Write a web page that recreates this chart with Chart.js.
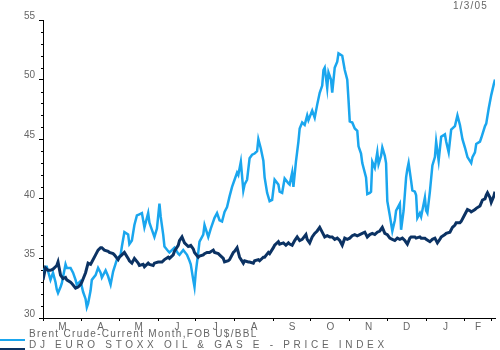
<!DOCTYPE html>
<html>
<head>
<meta charset="utf-8">
<script src="https://cdn.jsdelivr.net/npm/chart.js@4.4.1/dist/chart.umd.min.js"></script>
<style>
  body { margin: 0; background: #fff; }
  #wrap { position: relative; width: 500px; height: 350px; overflow: hidden; font-family: "Liberation Sans", Arial, sans-serif; color: #666; }
  #myChart { position: absolute; left: 0; top: 0; }
  .txt { position: absolute; font-size: 10px; line-height: 10px; white-space: nowrap; }
  .swatch { position: absolute; left: 0; width: 25px; }
</style>
</head>
<body>
<div id="wrap">
  <canvas id="myChart" width="500" height="350"></canvas>
  <div class="txt" id="date" style="left:453px; top:1px; letter-spacing:1.2px;">1/3/05</div>
  <div class="swatch" style="top:339px; height:2px; background:#1aa6ee;"></div>
  <div class="txt" style="left:29px; top:329px; letter-spacing:1.3px;">Brent Crude-Current Month,FOB U$/BBL</div>
  <div class="swatch" style="top:348px; height:3px; background:#0b3263;"></div>
  <div class="txt" style="left:29px; top:340px; letter-spacing:3.7px;">DJ EURO STOXX OIL &amp; GAS E - PRICE INDEX</div>
</div>
<script>
'use strict';

// ******* DATA *******
// x values are days since 1 March 2004
let monthLabels = ['M', 'A', 'M', 'J', 'J', 'A', 'S', 'O', 'N', 'D', 'J', 'F'];
let monthStarts = [0, 31, 61, 92, 122, 153, 184, 214, 245, 275, 306, 337];
let axisEndTick = 358;
let yTicks = [30, 35, 40, 45, 50, 55];

let brentDays = [0, 2, 3, 6, 8, 10, 11, 12, 14, 15, 18, 19, 22, 24, 26, 27, 30, 32, 34, 35, 36, 38, 39, 42, 44, 46, 47, 50, 52, 54, 56, 59, 62, 63, 65, 68, 69, 71, 73, 75, 77, 79, 81, 84, 85, 87, 89, 91, 93, 94, 96, 97, 100, 101, 104, 105, 108, 109, 112, 115, 117, 118, 120, 121, 122, 124, 125, 128, 129, 132, 134, 137, 139, 141, 143, 145, 147, 149, 151, 153, 155, 156, 158, 160, 161, 163, 165, 167, 169, 171, 172, 174, 176, 177, 179, 181, 183, 185, 188, 189, 191, 193, 196, 197, 199, 200, 202, 204, 205, 207, 209, 211, 212, 215, 217, 219, 221, 223, 224, 225, 227, 228, 230, 231, 233, 235, 236, 239, 241, 243, 244, 245, 247, 249, 251, 252, 254, 255, 258, 259, 261, 262, 263, 265, 267, 268, 270, 271, 273, 274, 275, 277, 279, 281, 282, 285, 286, 288, 290, 291, 292, 294, 295, 297, 298, 299, 301, 302, 305, 306, 307, 309, 311, 313, 314, 316, 318, 321, 322, 324, 326, 329, 331, 333, 335, 337, 339, 342, 343, 345, 346, 349, 350, 353, 354, 356, 358, 360, 361];
let brentValues = [33.8, 34.3, 34.3, 33.2, 33.8, 33.0, 32.4, 32.1, 32.6, 32.9, 34.5, 34.2, 34.2, 33.8, 33.2, 32.8, 33.1, 32.2, 31.6, 30.9, 31.2, 32.3, 33.2, 33.6, 34.2, 33.8, 33.4, 34.0, 33.5, 32.8, 33.9, 34.9, 35.3, 36.0, 37.2, 37.0, 36.2, 36.5, 37.8, 38.6, 38.7, 38.8, 37.6, 38.8, 38.0, 37.4, 36.8, 37.5, 39.6, 38.5, 37.0, 36.0, 35.6, 35.5, 35.8, 35.9, 35.4, 35.3, 35.7, 35.3, 34.8, 34.5, 33.2, 32.6, 33.8, 35.5, 36.4, 37.0, 37.8, 36.8, 37.5, 38.4, 38.8, 38.2, 38.1, 38.9, 39.3, 40.2, 41.0, 41.6, 42.2, 42.0, 43.1, 40.7, 41.2, 41.6, 43.4, 43.7, 43.8, 44.0, 45.0, 44.2, 43.2, 41.8, 40.5, 39.8, 39.9, 41.6, 41.2, 40.6, 40.5, 41.7, 41.3, 41.2, 42.2, 41.0, 43.1, 44.8, 45.9, 46.4, 46.2, 47.0, 46.6, 47.4, 46.8, 47.9, 48.9, 49.5, 50.8, 51.0, 49.3, 50.6, 50.0, 48.9, 51.0, 51.5, 52.2, 52.0, 50.8, 50.0, 48.3, 46.5, 46.4, 45.9, 45.7, 44.4, 43.8, 43.0, 41.8, 40.4, 40.5, 40.6, 43.1, 42.6, 43.9, 42.9, 43.6, 44.3, 43.6, 43.0, 39.8, 38.6, 37.3, 38.2, 39.0, 39.6, 37.4, 39.0, 41.8, 42.5, 43.0, 41.5, 40.7, 40.6, 40.3, 38.4, 38.8, 38.5, 40.1, 39.0, 38.8, 40.6, 42.8, 43.5, 44.8, 43.2, 45.2, 45.4, 44.8, 43.9, 45.8, 46.1, 47.0, 46.2, 45.0, 44.3, 43.5, 43.0, 43.5, 43.9, 44.6, 44.8, 45.1, 46.1, 46.3, 47.6, 48.7, 49.6, 50.0];

let stoxxDays = [0, 2, 4, 6, 8, 10, 11, 12, 14, 16, 18, 19, 22, 23, 26, 28, 30, 31, 34, 36, 38, 39, 42, 44, 46, 47, 49, 52, 53, 56, 57, 60, 61, 63, 65, 68, 69, 71, 73, 76, 77, 80, 81, 84, 85, 88, 89, 92, 95, 97, 100, 101, 104, 105, 108, 109, 111, 113, 116, 118, 120, 121, 124, 125, 128, 129, 131, 133, 136, 137, 140, 141, 144, 145, 148, 149, 152, 153, 155, 157, 160, 161, 164, 165, 168, 169, 172, 173, 176, 177, 180, 181, 184, 185, 188, 189, 192, 194, 196, 197, 199, 201, 203, 205, 207, 210, 211, 213, 215, 217, 219, 221, 223, 225, 227, 229, 231, 233, 235, 237, 239, 241, 243, 245, 247, 249, 251, 253, 255, 257, 259, 261, 263, 265, 267, 269, 271, 273, 275, 277, 279, 281, 283, 285, 287, 289, 291, 293, 294, 297, 298, 301, 302, 305, 306, 309, 311, 313, 315, 317, 318, 321, 322, 325, 327, 329, 330, 333, 334, 337, 339, 341, 342, 345, 346, 349, 351, 353, 354, 355, 357, 358, 360, 361];
let stoxxValues = [33.2, 34.2, 34.0, 34.0, 34.1, 34.3, 34.4, 34.7, 33.6, 33.3, 33.4, 33.2, 33.0, 32.9, 32.5, 32.6, 32.8, 33.0, 33.8, 34.6, 34.5, 34.7, 35.3, 35.7, 35.9, 35.9, 35.7, 35.6, 35.5, 35.4, 35.3, 34.9, 35.1, 35.3, 35.5, 35.0, 34.8, 34.6, 35.0, 34.6, 34.4, 34.5, 34.3, 34.6, 34.5, 34.4, 34.6, 34.7, 34.7, 34.9, 35.1, 35.0, 35.3, 35.6, 36.1, 36.5, 36.8, 36.3, 36.0, 36.1, 35.8, 35.5, 35.1, 35.2, 35.3, 35.4, 35.5, 35.5, 35.7, 35.5, 35.4, 35.3, 35.0, 34.7, 34.8, 34.9, 35.5, 35.6, 35.9, 35.1, 34.6, 34.8, 34.7, 34.7, 34.6, 34.8, 34.9, 34.8, 35.1, 35.1, 35.5, 35.4, 35.9, 36.1, 36.4, 36.2, 36.3, 36.1, 36.3, 36.2, 36.1, 36.5, 36.8, 36.5, 36.6, 37.0, 36.6, 36.3, 36.8, 37.1, 37.3, 37.6, 37.2, 36.8, 36.9, 36.8, 36.8, 36.6, 36.7, 36.5, 36.1, 36.7, 36.6, 36.7, 36.9, 37.0, 36.9, 37.0, 37.1, 37.2, 36.8, 37.0, 37.1, 37.0, 37.2, 37.3, 37.6, 37.1, 37.0, 36.7, 36.6, 36.5, 36.7, 36.6, 36.7, 36.5, 36.2, 36.7, 36.8, 36.8, 36.7, 36.8, 36.7, 36.7, 36.6, 36.4, 36.6, 36.7, 36.3, 36.6, 36.8, 37.0, 37.1, 37.2, 37.6, 37.8, 38.0, 38.0, 38.1, 38.7, 39.1, 39.0, 38.9, 39.1, 39.2, 39.4, 39.9, 40.0, 40.3, 40.5, 40.1, 39.7, 40.2, 40.6];

// ******* HELPERS *******
function toPoints(days, values) {
  let points = [];
  for (let i = 0; i < days.length; i++) {
    points.push({ x: days[i], y: values[i] });
  }
  return points;
}

// month letters sit halfway between the month boundaries
let labelDays = [];
for (let i = 0; i < monthStarts.length; i++) {
  let next = i + 1 < monthStarts.length ? monthStarts[i + 1] : axisEndTick;
  labelDays.push((monthStarts[i] + next) / 2);
}
let boundaryTicks = monthStarts.concat([axisEndTick]);

// small unlabelled ticks at every unit on the y axis
let minorYTicks = {
  id: 'minorYTicks',
  afterDraw(chart) {
    let y = chart.scales.y;
    let ctx = chart.ctx;
    ctx.save();
    ctx.strokeStyle = '#000';
    ctx.lineWidth = 1;
    for (let v = y.min; v <= y.max; v++) {
      if (yTicks.includes(v)) continue;
      let py = Math.round(y.getPixelForValue(v)) + 0.5;
      ctx.beginPath();
      ctx.moveTo(y.right - 2, py);
      ctx.lineTo(y.right, py);
      ctx.stroke();
    }
    ctx.restore();
  }
};

// ******* CHART *******
let canvasElem = document.getElementById('myChart').getContext('2d');

new Chart(canvasElem, {
  type: 'line',
  data: {
    datasets: [{
      label: 'DJ EURO STOXX OIL & GAS E - PRICE INDEX',
      data: toPoints(stoxxDays, stoxxValues),
      borderColor: '#0b3263',
      borderWidth: 3,
      pointRadius: 0,
      tension: 0
    },
    {
      label: 'Brent Crude-Current Month,FOB U$/BBL',
      data: toPoints(brentDays, brentValues),
      borderColor: '#1aa6ee',
      borderWidth: 2.5,
      pointRadius: 0,
      tension: 0
    }]
  },
  options: {
    responsive: false,
    animation: false,
    layout: { padding: { top: 20, right: 5, left: 0, bottom: 0 } },
    plugins: {
      legend: { display: false },
      tooltip: { enabled: false }
    },
    scales: {
      x: {
        type: 'linear',
        min: 0,
        max: 361,
        afterBuildTicks: (scale) => {
          let all = boundaryTicks.concat(labelDays).sort((a, b) => a - b);
          scale.ticks = all.map(v => ({ value: v }));
        },
        afterFit: (scale) => { scale.height = 32; },
        border: { display: true, color: '#000', width: 1 },
        grid: {
          drawOnChartArea: false,
          tickLength: 3,
          tickColor: (ctx) => boundaryTicks.includes(ctx.tick && ctx.tick.value) ? '#000' : 'rgba(0,0,0,0)'
        },
        ticks: {
          autoSkip: false,
          maxRotation: 0,
          padding: 0,
          color: '#666',
          font: { family: 'Liberation Sans', size: 10 },
          callback: (value) => {
            let idx = labelDays.indexOf(value);
            return idx >= 0 ? monthLabels[idx] : '';
          }
        }
      },
      y: {
        min: 30,
        max: 55,
        afterBuildTicks: (scale) => {
          scale.ticks = yTicks.map(v => ({ value: v }));
        },
        afterFit: (scale) => { scale.width = 43; },
        border: { display: true, color: '#000', width: 1 },
        grid: {
          drawOnChartArea: false,
          tickLength: 4,
          tickColor: '#000'
        },
        ticks: {
          padding: 4,
          labelOffset: -4,
          color: '#666',
          font: { family: 'Liberation Sans', size: 10 }
        }
      }
    }
  },
  plugins: [minorYTicks]
});
</script>
</body>
</html>
